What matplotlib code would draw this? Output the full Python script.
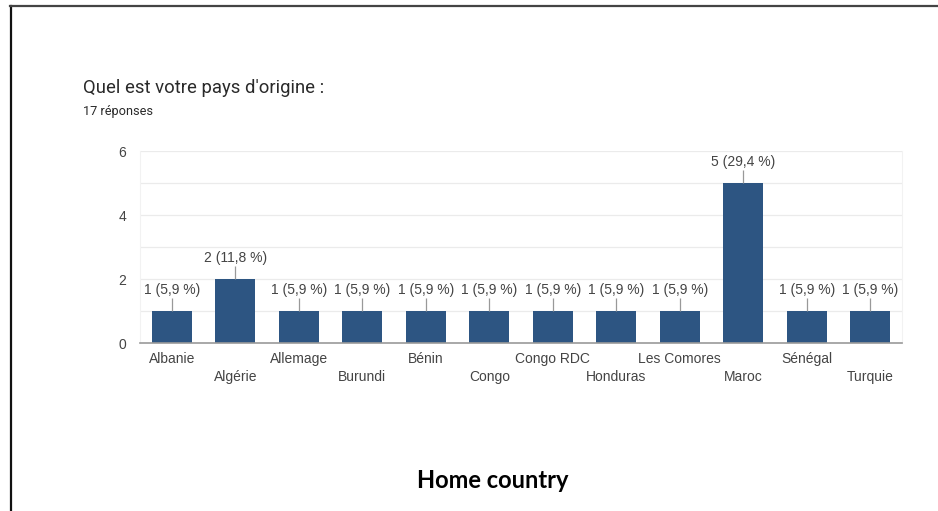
import matplotlib
matplotlib.use('Agg')
import matplotlib.pyplot as plt
from matplotlib.lines import Line2D
from matplotlib.transforms import ScaledTranslation

countries = ['Albanie', 'Algérie', 'Allemage', 'Burundi', 'Bénin', 'Congo',
             'Congo RDC', 'Honduras', 'Les Comores', 'Maroc', 'Sénégal', 'Turquie']
counts = [1, 2, 1, 1, 1, 1, 1, 1, 1, 5, 1, 1]
total = 17

bar_color = '#2d5582'
text_color = '#444444'

fig = plt.figure(figsize=(9.38, 5.11), dpi=100)
fig.patch.set_facecolor('white')

# frame lines on the left and top of the page
fig.add_artist(Line2D([10.5 / 938, 10.5 / 938], [0, 1 - 6 / 511], color='#111111', lw=1.6,
                      transform=fig.transFigure))
fig.add_artist(Line2D([10 / 938, 1], [1 - 6.5 / 511, 1 - 6.5 / 511], color='#444444', lw=1.6,
                      transform=fig.transFigure))

ax = fig.add_axes([140 / 938, 168 / 511, 762 / 938, 192 / 511])
x = list(range(len(countries)))
ax.bar(x, counts, width=0.63, color=bar_color, zorder=3)

ax.set_xlim(-0.5, len(countries) - 0.5)
ax.set_ylim(0, 6)
ax.set_yticks([0, 2, 4, 6])
ax.set_yticks([1, 3, 5], minor=True)
ax.grid(axis='y', which='both', color='#ebebeb', lw=0.9, zorder=0)
ax.tick_params(axis='y', which='both', length=0, pad=10, labelsize=10, labelcolor=text_color)
ax.tick_params(axis='x', length=0, pad=6.5, labelsize=10, labelcolor=text_color)
for s in ['top']:
    ax.spines[s].set_visible(False)
for s in ['left', 'right']:
    ax.spines[s].set_color('#f2f2f2')
    ax.spines[s].set_linewidth(0.8)
ax.spines['bottom'].set_color('#9a9a9a')
ax.spines['bottom'].set_linewidth(1.2)
ax.spines['bottom'].set_zorder(4)

ax.set_xticks(x)
ax.set_xticklabels(countries, fontfamily='Liberation Sans')
for lbl in ax.get_yticklabels():
    lbl.set_fontfamily('Liberation Sans')
# stagger every other country name onto a second row
for i, lbl in enumerate(ax.get_xticklabels()):
    if i % 2 == 1:
        lbl.set_transform(lbl.get_transform() + ScaledTranslation(0, -0.18, fig.dpi_scale_trans))

# value labels with short leader lines
for xi, v in zip(x, counts):
    pct = f'{v / total * 100:.1f}'.replace('.', ',')
    ax.vlines(xi, v, v + 0.4, color='#999999', lw=0.9, zorder=4, clip_on=False)
    ax.annotate(f'{v} ({pct} %)', (xi, v), xytext=(0, 10), textcoords='offset points',
                ha='center', va='bottom', fontsize=10, color=text_color,
                fontfamily='Liberation Sans', annotation_clip=False)

fig.text(83 / 938, 1 - 88 / 511, "Quel est votre pays d'origine :", fontsize=13.3,
         color='#2a2a2a', fontfamily='Roboto', va='center', ha='left')
fig.text(83 / 938, 1 - 111 / 511, '17 réponses', fontsize=9.2,
         color='#2a2a2a', fontfamily='Roboto', va='center', ha='left')

fig.text(493 / 938, 1 - 480 / 511, 'Home country', fontsize=17, fontweight='bold',
         color='black', fontfamily='Lato', va='center', ha='center')

fig.savefig('out.png', dpi=100, facecolor='white')
